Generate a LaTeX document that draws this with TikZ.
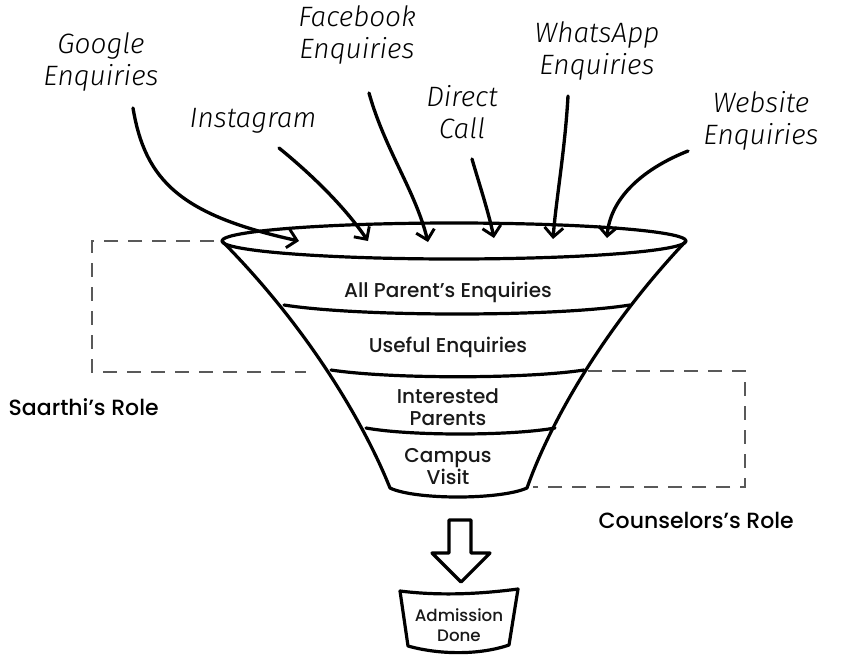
\documentclass[tikz,border=0pt]{standalone}
\usepackage{fontspec}
\setmainfont{Poppins Medium}
\newfontfamily\handfont{Fira Sans Light}
\usetikzlibrary{arrows.meta}
\begin{document}
\begin{tikzpicture}[x=0.75pt,y=-0.75pt,
  funnelline/.style={line width=2.4pt,line join=round,line cap=round},
  inflow/.style={line width=2.5pt,line cap=round,-{Straight Barb[length=7pt,width=14pt,line width=2.2pt]}},
  rolebox/.style={draw=black!65,line width=1.5pt,dash pattern=on 10.5pt off 7.5pt},
  hand/.style={font=\handfont\itshape\fontsize{21}{23.5}\selectfont,align=center},
  stage/.style={font=\fontsize{15}{16.5}\selectfont,align=center,text=black!90},
  role/.style={font=\fontsize{16.5}{20}\selectfont,anchor=west}]
\useasboundingbox (0,0) rectangle (842,668);

% role boxes
\draw[rolebox] (214,241) -- (92,241) -- (92,372) -- (306,372);
\draw[rolebox] (588,371) -- (745,371) -- (745,487) -- (533,487);

% funnel
\draw[funnelline] (454,241) ellipse [x radius=232, y radius=18];
\coordinate (tl) at (222,241);
\coordinate (tr) at (686,241);
\coordinate (bl) at (390,488);
\coordinate (br) at (527,488);
\draw[funnelline] (tl) .. controls (312,332) and (366,428) .. (bl);
\draw[funnelline] (tr) .. controls (600,332) and (548,428) .. (br);
\draw[funnelline] (284,305) .. controls (360,317) and (554,317) .. (630,305);
\draw[funnelline] (331,370) .. controls (390,379) and (526,379) .. (584,370);
\draw[funnelline] (366,428) .. controls (410,436) and (510,436) .. (555,428);
\draw[funnelline] (bl) .. controls (415,500) and (500,500) .. (br);

\node[stage] (s1) at (448,292) {All Parent’s Enquiries};
\node[stage] (s2) at (448,347) {Useful Enquiries};
\node[stage] (s3) at (448,407) {Interested\\Parents};
\node[stage] (s4) at (448,467) {Campus\\Visit};

\node[role] (saarthi) at (4,407) {Saarthi’s Role};
\node[role] (couns) at (594,520) {Counselors’s Role};

% sources
\node[hand] (google) at (101,62) {Google\\Enquiries};
\node[hand] (insta) at (253,121) {Instagram};
\node[hand] (fb) at (357,35) {Facebook\\Enquiries};
\node[hand] (direct) at (462,112) {Direct\\Call};
\node[hand] (wa) at (597,51) {WhatsApp\\Enquiries};
\node[hand] (web) at (761,121) {Website\\Enquiries};

\coordinate (g1) at (133,108);
\coordinate (i1) at (279,148);
\coordinate (f1) at (369,93);
\coordinate (d1) at (472,159);
\coordinate (w1) at (568,96);
\coordinate (e1) at (688,151);
\coordinate (ge) at (299,241);
\coordinate (ie) at (368,241);
\coordinate (fe) at (428,242);
\coordinate (de) at (494,238);
\coordinate (we) at (553,239);
\coordinate (ee) at (607,238);

\draw[inflow] (g1) .. controls (145,180) and (180,215) .. (ge);
\draw[inflow] (i1) .. controls (300,165) and (340,200) .. (ie);
\draw[inflow] (f1) .. controls (385,150) and (415,190) .. (fe);
\draw[inflow] (d1) .. controls (478,180) and (488,210) .. (de);
\draw[inflow] (w1) .. controls (565,150) and (556,200) .. (we);
\draw[inflow] (e1) .. controls (640,170) and (610,200) .. (ee);

% block arrow
\draw[funnelline] (449,520) -- (471,520) -- (471,553) -- (490,553) -- (461,582) -- (432,553) -- (449,553) -- cycle;

% admission box
\coordinate (al) at (400,591);
\coordinate (ar) at (518,589);
\draw[funnelline] (al) .. controls (440,596) and (480,594) .. (ar) -- (509,645) .. controls (480,655) and (440,655) .. (408,646) -- cycle;
\node[stage,font=\fontsize{12.5}{14.5}\selectfont] (adm) at (459,625) {Admission\\Done};
\end{tikzpicture}
\end{document}
